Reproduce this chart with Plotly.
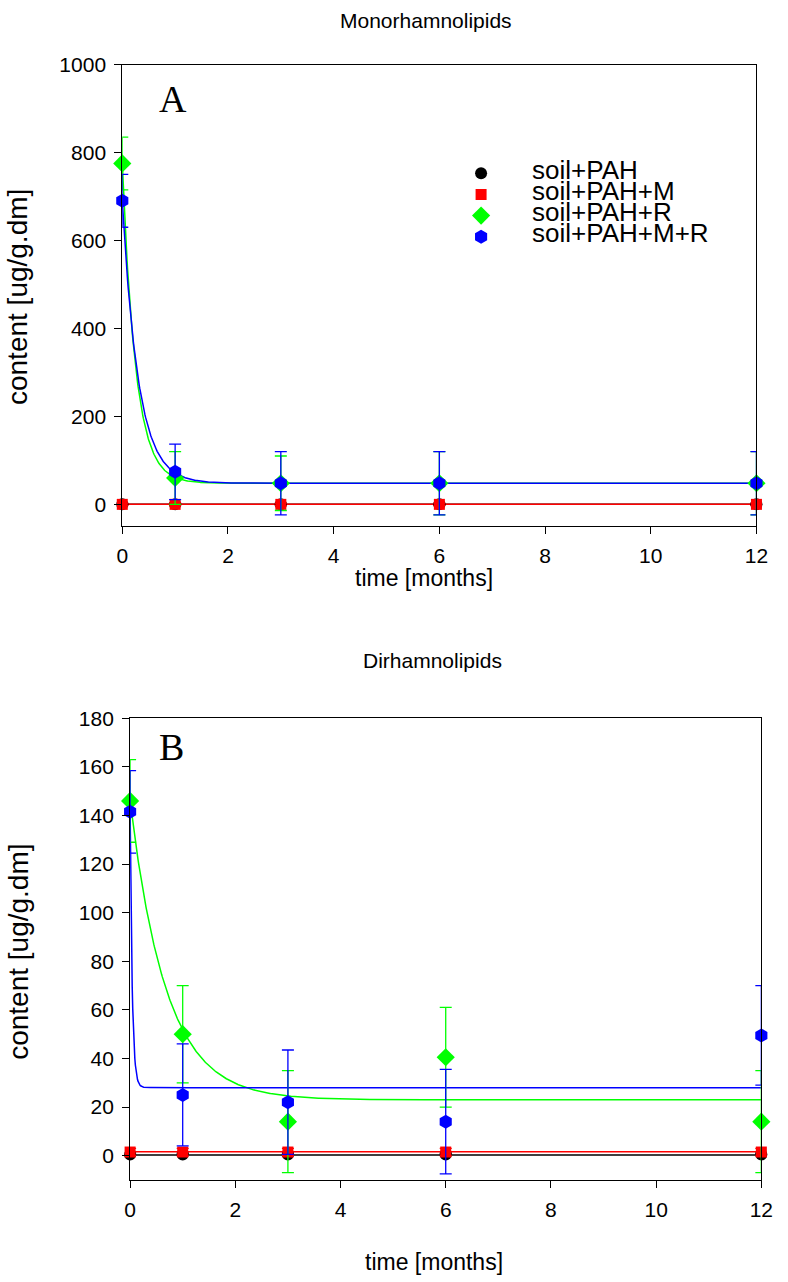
import numpy as np
import plotly.graph_objects as go

W, H = 788, 1282

# ---------------- data ----------------
time_months = [0, 1, 3, 6, 12]
series_names = ["soil+PAH", "soil+PAH+M", "soil+PAH+R", "soil+PAH+M+R"]

# Monorhamnolipids (panel A)
mono_pah = [0, 0, 0, 0, 0]
mono_pah_err = [2, 2, 2, 2, 2]
mono_pah_m = [0, 0, 0, 0, 0]
mono_pah_m_err = [3, 3, 3, 3, 3]
mono_pah_r = [775, 60, 48, 48, 48]
mono_pah_r_err = [60, 60, 62, 72, 72]
mono_pah_mr = [690, 74, 48, 48, 48]
mono_pah_mr_err = [60, 63, 72, 72, 72]

# Dirhamnolipids (panel B)
di_pah = [0.5, 0.5, 0.5, 0.5, 0.5]
di_pah_err = [0.5, 0.5, 0.5, 0.5, 0.5]
di_pah_m = [1.5, 1.5, 1.5, 1.5, 1.5]
di_pah_m_err = [1.5, 1.5, 1.5, 1.5, 1.5]
di_pah_r = [146, 50, 14, 40.5, 14]
di_pah_r_err = [17, 20, 21, 20.5, 21]
di_pah_mr = [141.5, 25, 22, 14, 49.5]
di_pah_mr_err = [17, 21, 21.5, 21.5, 20.5]

# exponential-decay fit parameters  y = c + a*exp(-k t)
mono_fit_c = [0, 0, 48, 48]
mono_fit_a = [0, 0, 727, 642]
mono_fit_k = [1, 1, 4.0, 3.3]
di_fit_c = [0.3, 1.6, 23, 28]
di_fit_a = [0, 0, 123, 113.5]
di_fit_k = [1, 1, 1.45, 25]

colors = ["#000000", "#ff0000", "#00ff00", "#0000ff"]
symbols = ["circle", "square", "diamond", "hexagon"]
sizes = [12, 11, 14, 14]

fig = go.Figure()

t_fit = np.linspace(0, 12, 1201)


def add_panel(vals, errs, fc, fa, fk, xa, ya, legend):
    for i in range(4):
        yfit = fc[i] + fa[i] * np.exp(-fk[i] * t_fit)
        fig.add_trace(go.Scatter(x=t_fit, y=yfit, mode="lines",
                                 line=dict(color=colors[i], width=1.5),
                                 xaxis=xa, yaxis=ya, showlegend=False,
                                 hoverinfo="skip"))
    for i in range(4):
        fig.add_trace(go.Scatter(
            x=time_months, y=vals[i], mode="markers",
            name='<span style="font-size:26px">' + series_names[i] + "</span>",
            marker=dict(color=colors[i], symbol=symbols[i], size=sizes[i],
                        line=dict(width=0)),
            error_y=dict(type="data", array=errs[i], visible=True,
                         color=colors[i], thickness=1.3, width=6),
            xaxis=xa, yaxis=ya, showlegend=legend, cliponaxis=False))


add_panel([mono_pah, mono_pah_m, mono_pah_r, mono_pah_mr],
          [mono_pah_err, mono_pah_m_err, mono_pah_r_err, mono_pah_mr_err],
          mono_fit_c, mono_fit_a, mono_fit_k, "x", "y", True)
add_panel([di_pah, di_pah_m, di_pah_r, di_pah_mr],
          [di_pah_err, di_pah_m_err, di_pah_r_err, di_pah_mr_err],
          di_fit_c, di_fit_a, di_fit_k, "x2", "y2", False)

FONT = "Liberation Sans, Arial, sans-serif"
axis_common = dict(showline=True, linecolor="black", linewidth=1, mirror=True,
                   ticks="outside", ticklen=7, tickwidth=1, tickcolor="black",
                   showgrid=False, zeroline=False, ticklabelstandoff=4,
                   tickfont=dict(family=FONT, size=21, color="black"))


def px_x(p):
    return p / W


def px_y(p):
    return 1 - p / H


fig.update_layout(
    width=W, height=H, autosize=False,
    margin=dict(l=0, r=0, t=0, b=0),
    paper_bgcolor="white", plot_bgcolor="white",
    font=dict(family=FONT, color="black"),
    xaxis=dict(domain=[px_x(119), px_x(768)], range=[0, 12], dtick=2,
               anchor="y", **axis_common),
    yaxis=dict(domain=[px_y(519), px_y(53)], range=[-49.5, 1000], dtick=200,
               anchor="x", **axis_common),
    xaxis2=dict(domain=[px_x(127), px_x(773)], range=[0, 12], dtick=2,
                anchor="y2", **axis_common),
    yaxis2=dict(domain=[px_y(1179), px_y(713)], range=[-10, 180], dtick=20,
                anchor="x2", **axis_common),
    showlegend=True,
    legend=dict(x=px_x(434), y=px_y(147), xanchor="left", yanchor="top",
                bgcolor="rgba(0,0,0,0)", borderwidth=0, itemwidth=92,
                font=dict(family=FONT, size=14, color="black"),
                tracegroupgap=0),
)

ann = [
    dict(text="Monorhamnolipids", x=px_x(430), y=px_y(9), size=21),
    dict(text="time [months]", x=px_x(428), y=px_y(571), size=23),
    dict(text="Dirhamnolipids", x=px_x(436), y=px_y(655), size=21),
    dict(text="time [months]", x=px_x(438), y=px_y(1262), size=23),
]
for a in ann:
    fig.add_annotation(text=a["text"], x=a["x"], y=a["y"], xref="paper",
                       yref="paper", showarrow=False, xanchor="center",
                       yanchor="middle",
                       font=dict(family=FONT, size=a["size"], color="black"))
for yc in (288, 949):
    fig.add_annotation(text="content [ug/g.dm]", x=px_x(12), y=px_y(yc),
                       xref="paper", yref="paper", showarrow=False,
                       textangle=-90, xanchor="center", yanchor="middle",
                       font=dict(family=FONT, size=28, color="black"))
for lab, xc, yc in (("A", 171, 88), ("B", 169, 742)):
    fig.add_annotation(text=lab, x=px_x(xc), y=px_y(yc), xref="paper",
                       yref="paper", showarrow=False, xanchor="center",
                       yanchor="middle",
                       font=dict(family="Liberation Serif, Times New Roman, serif",
                                 size=38, color="black"))

fig.write_html("out.html", config={"displayModeBar": False},
               post_script="document.body.style.margin='0';"
                           "document.body.style.overflow='hidden';")
